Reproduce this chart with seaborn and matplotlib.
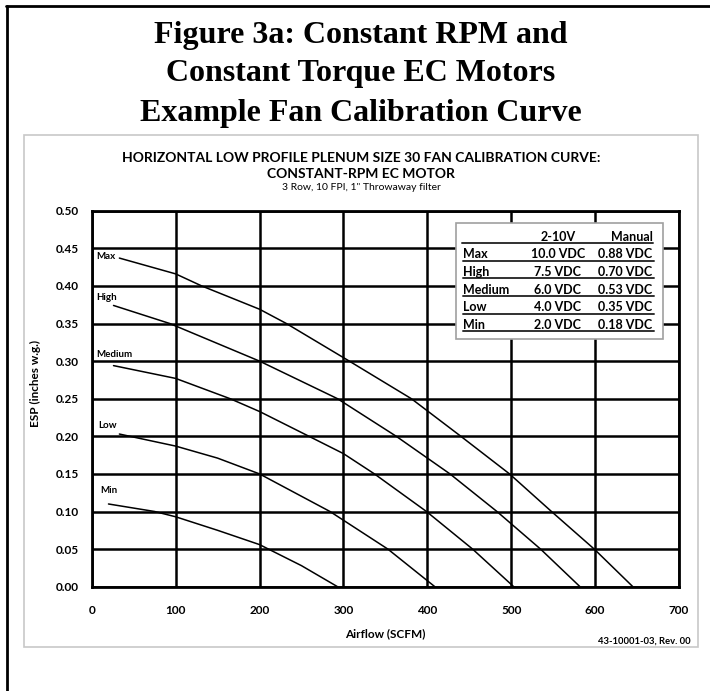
import numpy as np
import pandas as pd
import matplotlib
matplotlib.use("Agg")
import matplotlib.pyplot as plt
from matplotlib.lines import Line2D
import seaborn as sns

# fan curves (airflow SCFM, ESP inches w.g.)
max_cfm = [33, 100, 131, 200, 232, 307, 381, 440, 498, 548, 599, 645]
max_esp = [0.437, 0.416, 0.400, 0.369, 0.350, 0.300, 0.250, 0.200, 0.150, 0.100, 0.050, 0.0]
high_cfm = [26, 93, 200, 293, 363, 427, 483, 535, 582]
high_esp = [0.374, 0.350, 0.300, 0.250, 0.200, 0.150, 0.100, 0.050, 0.0]
med_cfm = [26, 100, 165, 200, 259, 300, 337, 399, 454, 503]
med_esp = [0.294, 0.277, 0.250, 0.233, 0.200, 0.177, 0.150, 0.100, 0.050, 0.0]
low_cfm = [33, 100, 150, 200, 284, 353, 409]
low_esp = [0.203, 0.187, 0.171, 0.150, 0.100, 0.050, 0.0]
min_cfm = [20, 75, 100, 150, 200, 250, 293]
min_esp = [0.110, 0.100, 0.093, 0.075, 0.056, 0.028, 0.0]

speeds = ["Max", "High", "Medium", "Low", "Min"]
label_pos = [(5, 0.439), (6, 0.384), (6, 0.309), (7.5, 0.214), (10, 0.128)]

# settings table
table_cols = ["2-10V", "Manual"]
table_210v = ["10.0 VDC", "7.5 VDC", "6.0 VDC", "4.0 VDC", "2.0 VDC"]
table_manual = ["0.88 VDC", "0.70 VDC", "0.53 VDC", "0.35 VDC", "0.18 VDC"]

xticks = list(range(0, 701, 100))
yticks = [0.00, 0.05, 0.10, 0.15, 0.20, 0.25, 0.30, 0.35, 0.40, 0.45, 0.50]

curves = pd.concat([
    pd.DataFrame({"airflow": max_cfm, "esp": max_esp, "speed": "Max"}),
    pd.DataFrame({"airflow": high_cfm, "esp": high_esp, "speed": "High"}),
    pd.DataFrame({"airflow": med_cfm, "esp": med_esp, "speed": "Medium"}),
    pd.DataFrame({"airflow": low_cfm, "esp": low_esp, "speed": "Low"}),
    pd.DataFrame({"airflow": min_cfm, "esp": min_esp, "speed": "Min"}),
])

sns.set_style("white")
plt.rcParams["font.family"] = ["Lato", "DejaVu Sans"]
for k in ["text.color", "axes.labelcolor", "xtick.color", "ytick.color"]:
    plt.rcParams[k] = "black"

W, H = 710, 691
fig = plt.figure(figsize=(W / 100, H / 100), dpi=100)

def fx(x):
    return x / W

def fy(y):
    return 1 - y / H

# outer frame (left + top only visible) and grey chart box
fig.add_artist(Line2D([fx(6.5), fx(6.5)], [fy(6), fy(691)], color="black", lw=2))
fig.add_artist(Line2D([fx(5.5), fx(710)], [fy(6), fy(6)], color="black", lw=2))
fig.add_artist(plt.Rectangle((fx(24), fy(647)), fx(698) - fx(24), fy(135) - fy(647),
                             fill=False, ec="#c8c8c8", lw=1.2))

# figure title
for i, t in enumerate(["Figure 3a: Constant RPM and", "Constant Torque EC Motors",
                       "Example Fan Calibration Curve"]):
    fig.text(fx(361), fy(35 + 39 * i), t, ha="center", va="center",
             family="Liberation Serif", weight="bold", fontsize=23)

fig.text(fx(361), fy(158), "HORIZONTAL LOW PROFILE PLENUM SIZE 30 FAN CALIBRATION CURVE:",
         ha="center", va="center", weight="bold", fontsize=10)
fig.text(fx(361), fy(173.5), "CONSTANT-RPM EC MOTOR", ha="center", va="center",
         weight="bold", fontsize=10)
fig.text(fx(361), fy(188), '3 Row, 10 FPI, 1" Throwaway filter', ha="center", va="center",
         fontsize=7.5)

ax = fig.add_axes([fx(91.7), fy(586.7), fx(679) - fx(91.7), fy(210.7) - fy(586.7)])
sns.lineplot(data=curves, x="airflow", y="esp", units="speed", estimator=None,
             sort=False, color="black", lw=1.1, ax=ax)

for name, (lx, ly) in zip(speeds, label_pos):
    ax.text(lx, ly, name, ha="left", va="center", fontsize=7, weight="bold")

ax.set_xlim(0, 700)
ax.set_ylim(0, 0.5)
ax.set_xticks(xticks)
ax.set_yticks(yticks)
ax.set_yticklabels([f"{v:.2f}" for v in yticks])
ax.grid(True, color="black", lw=1.8)
ax.set_axisbelow(True)
for s in ax.spines.values():
    s.set_color("black")
    s.set_linewidth(2)
ax.tick_params(axis="y", direction="inout", length=10, width=1.5, pad=4, labelsize=8.5)
ax.tick_params(axis="x", direction="out", length=5, width=1.5, pad=8, labelsize=8.5)
for lab in ax.get_xticklabels() + ax.get_yticklabels():
    lab.set_fontweight("bold")
ax.set_xlabel("Airflow (SCFM)", fontsize=8.5, weight="bold")
ax.set_ylabel("ESP (inches w.g.)", fontsize=8.5, weight="bold")
ax.xaxis.set_label_coords(0.5, -0.11)
ax.yaxis.set_label_coords(-0.087, 0.54)

fig.text(fx(690.7), fy(641), "43-10001-03, Rev. 00", ha="right", va="center",
         fontsize=6.8, weight="bold")

# settings table box
fig.add_artist(plt.Rectangle((fx(456), fy(339)), fx(662.7) - fx(456), fy(223.3) - fy(339),
                             fc="white", ec="#a0a0a0", lw=1.2, zorder=5))
fig.text(fx(558), fy(236.5), table_cols[0], ha="center", va="center",
         fontsize=9, weight="bold", zorder=6)
fig.text(fx(652.7), fy(236.5), table_cols[1], ha="right", va="center",
         fontsize=9, weight="bold", zorder=6)
fig.add_artist(Line2D([fx(462), fx(653)], [fy(243.5), fy(243.5)], color="#303030", lw=1.4, zorder=6))
for i, name in enumerate(speeds):
    yy = 254.3 + 17.6 * i
    fig.text(fx(463.3), fy(yy), name, ha="left", va="center", fontsize=9, weight="bold", zorder=6)
    fig.text(fx(558), fy(yy), table_210v[i], ha="center", va="center", fontsize=9,
             weight="bold", zorder=6)
    fig.text(fx(652.7), fy(yy), table_manual[i], ha="right", va="center", fontsize=9,
             weight="bold", zorder=6)
    fig.add_artist(Line2D([fx(463), fx(653.5)], [fy(yy + 6.5), fy(yy + 6.5)], color="#303030",
                          lw=1.4, zorder=6))

fig.savefig("out.png", dpi=100)
